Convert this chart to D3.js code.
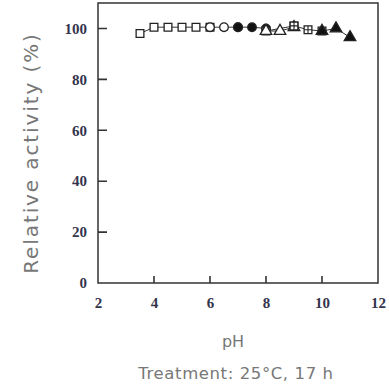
<!DOCTYPE html>
<html>
<head>
<meta charset="utf-8">
<script src="https://cdn.jsdelivr.net/npm/d3@7"></script>
<style>
  html, body { margin: 0; padding: 0; background: #fff; }
  svg { display: block; }
</style>
</head>
<body>
<svg id="chart" width="389" height="385"></svg>
<script>
// pH series, one per buffer (markers differ)
var openSquares   = [[3.5, 98], [4, 100.5], [4.5, 100.5], [5, 100.5], [5.5, 100.5], [6, 100.5]];
var openCircles   = [[6, 100.5], [6.5, 100.5], [7, 100.5]];
var filledCircles = [[7, 100.5], [7.5, 100.5], [8, 100]];
var openSquares2  = [[8, 99], [9, 101]];
var openTriangles = [[8, 99], [8.5, 99], [9, 100.5]];
var crossSquares  = [[9, 101], [9.5, 99.5], [10, 99]];
var filledTri     = [[10, 99], [10.5, 100], [11, 96.5]];

var xTicks = [2, 4, 6, 8, 10, 12];
var yTicks = [0, 20, 40, 60, 80, 100];

var series = [
  { data: openSquares,   shape: 'square',   fill: '#fff' },
  { data: openCircles,   shape: 'circle',   fill: '#fff' },
  { data: filledCircles, shape: 'circle',   fill: '#111' },
  { data: openSquares2,  shape: 'square',   fill: '#fff' },
  { data: openTriangles, shape: 'triangle', fill: '#fff' },
  { data: crossSquares,  shape: 'cross',    fill: '#fff' },
  { data: filledTri,     shape: 'triangle', fill: '#111' }
];

var svg = d3.select('#chart');
var x = d3.scaleLinear().domain([2, 12]).range([98, 378]);
var y = d3.scaleLinear().domain([0, 110]).range([283, 3]);

// frame
svg.append('rect')
  .attr('x', x(2)).attr('y', y(110))
  .attr('width', x(12) - x(2)).attr('height', y(0) - y(110))
  .attr('fill', 'none').attr('stroke', '#333').attr('stroke-width', 1.5);

// tick labels
var xAxis = svg.append('g')
  .attr('transform', 'translate(0,' + y(0) + ')')
  .call(d3.axisBottom(x).tickValues(xTicks).tickSizeInner(0).tickSizeOuter(0).tickPadding(14));
var yAxis = svg.append('g')
  .attr('transform', 'translate(' + x(2) + ',0)')
  .call(d3.axisLeft(y).tickValues(yTicks).tickSizeInner(0).tickSizeOuter(0).tickPadding(11));

[xAxis, yAxis].forEach(function(a) {
  a.select('.domain').remove();
  a.selectAll('.tick line').remove();
  a.selectAll('.tick text')
    .attr('font-family', '"Liberation Serif", serif')
    .attr('font-size', 15)
    .attr('font-weight', 'bold')
    .attr('fill', '#34344c');
});

// inward tick marks
var tickPath = '';
xTicks.slice(1, -1).forEach(function(d) {
  tickPath += 'M' + x(d) + ',' + y(0) + 'V' + (y(0) - 7);
});
yTicks.slice(1).forEach(function(d) {
  tickPath += 'M' + x(2) + ',' + y(d) + 'H' + (x(2) + 9);
});
svg.append('path')
  .attr('d', tickPath)
  .attr('fill', 'none')
  .attr('stroke', '#333')
  .attr('stroke-width', 1.6);

// lines
var line = d3.line().x(function(d) { return x(d[0]); }).y(function(d) { return y(d[1]); });
svg.append('g').selectAll('path')
  .data(series)
  .join('path')
  .attr('d', function(s) { return line(s.data); })
  .attr('fill', 'none')
  .attr('stroke', '#333')
  .attr('stroke-width', 1);

// markers
var sym = {
  square: d3.symbol().type(d3.symbolSquare).size(60),
  circle: d3.symbol().type(d3.symbolCircle).size(58),
  triangle: d3.symbol().type(d3.symbolTriangle).size(58)
};
series.forEach(function(s) {
  var g = svg.append('g');
  s.data.forEach(function(d) {
    var shape = s.shape === 'cross' ? 'square' : s.shape;
    var m = g.append('g').attr('transform', 'translate(' + x(d[0]) + ',' + y(d[1]) + ')');
    m.append('path')
      .attr('d', sym[shape]())
      .attr('fill', s.fill)
      .attr('stroke', '#222')
      .attr('stroke-width', 1.3);
    if (s.shape === 'cross') {
      m.append('path')
        .attr('d', 'M-3.8,0H3.8M0,-3.8V3.8')
        .attr('stroke', '#222').attr('stroke-width', 1.1);
    }
  });
});

// axis titles
svg.append('text')
  .attr('transform', 'translate(38,153) rotate(-90)')
  .attr('text-anchor', 'middle')
  .attr('font-family', '"DejaVu Sans", sans-serif')
  .attr('font-size', 20)
  .attr('letter-spacing', 1.9)
  .attr('fill', '#777')
  .text('Relative activity (%)');

svg.append('text')
  .attr('x', 233).attr('y', 347)
  .attr('text-anchor', 'middle')
  .attr('font-family', '"DejaVu Sans", sans-serif')
  .attr('font-size', 16)
  .attr('fill', '#777')
  .text('pH');

svg.append('text')
  .attr('x', 236).attr('y', 379)
  .attr('text-anchor', 'middle')
  .attr('font-family', '"DejaVu Sans", sans-serif')
  .attr('font-size', 16.5)
  .attr('letter-spacing', 0.6)
  .attr('fill', '#777')
  .text('Treatment: 25°C, 17 h');
</script>
</body>
</html>
